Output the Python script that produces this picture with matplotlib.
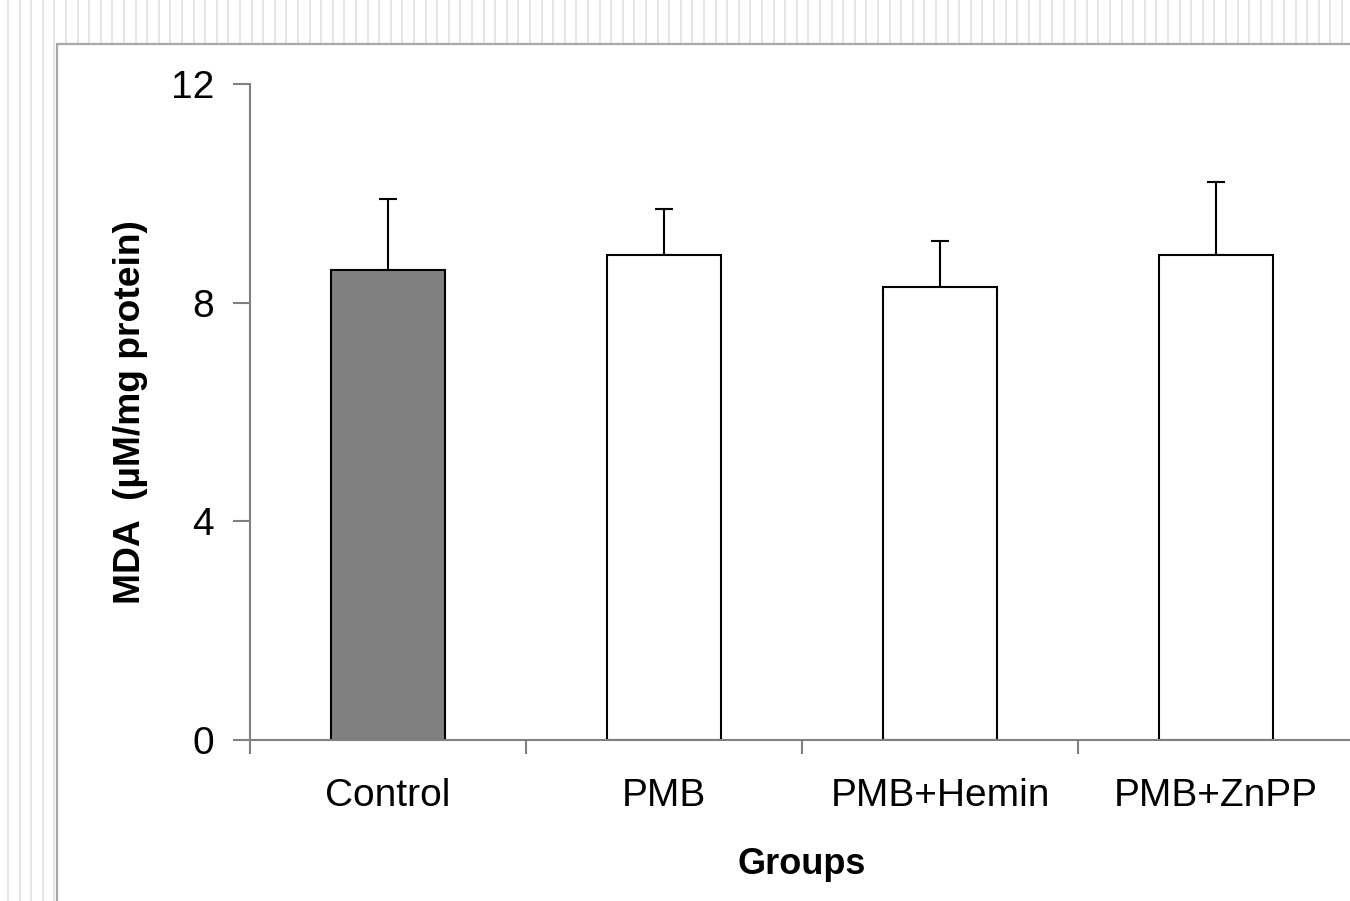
import matplotlib.pyplot as plt
import numpy as np
from matplotlib.lines import Line2D
from matplotlib.patches import Rectangle

plt.rcParams['font.family'] = ['Liberation Sans', 'DejaVu Sans']

groups = ["Control", "PMB", "PMB+Hemin", "PMB+ZnPP"]
mda_mean = [8.60, 8.87, 8.29, 8.87]
mda_sd = [1.30, 0.84, 0.84, 1.34]
bar_colors = ["#808080", "white", "white", "white"]

W, H = 1350, 901
fig = plt.figure(figsize=(W / 100, H / 100), dpi=100)
fig.patch.set_facecolor("white")

# hatched page background strip (top and left), then the white panel
for xp in np.arange(8, W, 11.6):
    fig.add_artist(Line2D([xp / W, xp / W], [0, 1], color="#e2e2e2", lw=1.2,
                          transform=fig.transFigure, zorder=0))
fig.add_artist(Rectangle((57 / W, -0.1), 1.1, 1.1 - 44 / H, transform=fig.transFigure,
                         facecolor="white", edgecolor="#a8a8a8", lw=1.6, zorder=0.5))

# axes: x from -0.5 (px 250) to 3.5 (px 1354, slightly off canvas)
left, right = 250 / W, 1354 / W
bottom, top = (H - 740) / H, (H - 84) / H
ax = fig.add_axes([left, bottom, right - left, top - bottom])
ax.set_facecolor("none")
ax.set_zorder(2)

x = np.arange(len(groups))
ax.bar(x, mda_mean, width=0.41, color=bar_colors, edgecolor="black", linewidth=1.5, zorder=2)
ax.errorbar(x, mda_mean, yerr=[np.zeros(len(x)), mda_sd], fmt="none", ecolor="black",
            elinewidth=1.5, capsize=6.5, capthick=1.5, zorder=1)

ax.set_xlim(-0.5, 3.5)
ax.set_ylim(0, 12)
ax.set_yticks([0, 4, 8, 12])
ax.set_xticks(np.arange(-0.5, 3.6, 1.0))
ax.set_xticklabels([])
ax.set_xticks(x, minor=True)
ax.set_xticklabels(groups, minor=True)

for s in ["top", "right"]:
    ax.spines[s].set_visible(False)
for s in ["left", "bottom"]:
    ax.spines[s].set_color("#808080")
    ax.spines[s].set_linewidth(1.5)

ax.tick_params(axis="y", direction="out", length=12, width=1.5, color="#808080",
               labelsize=28, pad=14)
ax.tick_params(axis="x", which="major", direction="out", length=10, width=1.5, color="#808080")
ax.tick_params(axis="x", which="minor", length=0, labelsize=28, pad=27)

ax.set_ylabel("MDA  (\u00b5M/mg protein)", fontsize=26.8, fontweight="bold")
ax.set_xlabel("Groups", fontsize=26, fontweight="bold")
ax.yaxis.set_label_coords(-0.0924, 0.5)
ax.xaxis.set_label_coords(0.5, -0.163)

fig.savefig("out.png", dpi=100)
